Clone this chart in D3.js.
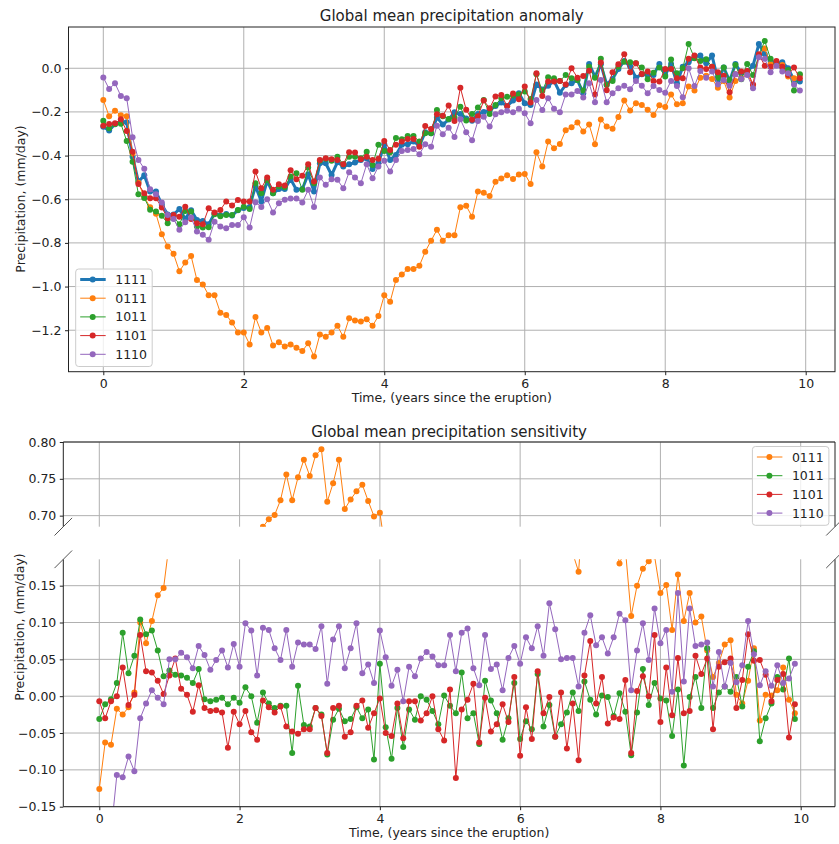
<!DOCTYPE html>
<html>
<head>
<meta charset="utf-8">
<script src="https://cdn.jsdelivr.net/npm/d3@7"></script>
<style>
body { margin: 0; background: #fff; }
text { font-family: "DejaVu Sans", sans-serif; fill: #222; }
</style>
</head>
<body>
<script>
// monthly samples, 10 years after the eruption
var months = d3.range(120);
var yearTicks = [0, 2, 4, 6, 8, 10];
var anomTicks = [0.0, -0.2, -0.4, -0.6, -0.8, -1.0, -1.2];
var sensTicksUpper = [0.80, 0.75, 0.70];
var sensTicksLower = [0.15, 0.10, 0.05, 0.00, -0.05, -0.10, -0.15];

// top panel: precipitation anomaly (mm/day)
var anom1111 = [-0.268,-0.285,-0.255,-0.245,-0.247,-0.405,-0.52,-0.49,-0.565,-0.565,-0.625,-0.67,-0.67,-0.645,-0.69,-0.65,-0.695,-0.70,-0.715,-0.665,-0.675,-0.668,-0.675,-0.65,-0.64,-0.635,-0.54,
  -0.61,-0.516,-0.573,-0.553,-0.553,-0.507,-0.557,-0.553,-0.486,-0.565,-0.435,-0.435,-0.489,-0.43,-0.45,-0.44,-0.432,-0.42,-0.412,-0.461,-0.435,-0.348,-0.42,-0.397,-0.35,-0.348,-0.336,-0.354,-0.293,-0.298,-0.225,-0.258,-0.235,
  -0.202,-0.21,-0.23,-0.24,-0.21,-0.2,-0.193,-0.173,-0.157,-0.173,-0.148,-0.115,-0.16,-0.168,-0.074,-0.097,-0.08,-0.058,-0.112,-0.077,-0.069,-0.054,-0.115,0.02,-0.038,0.018,-0.074,-0.049,-0.003,0.033,0.009,-0.043,
  -0.028,-0.031,-0.031,0.02,-0.031,0.02,-0.069,0.007,0.027,0.053,0.058,0.023,0.058,-0.054,0.003,-0.058,0.02,-0.023,-0.015,0.012,0.111,0.064,0.033,0.023,0.027,0.0,-0.054,-0.061];
var anom0111 = [-0.145,-0.22,-0.195,-0.215,-0.22,-0.39,-0.525,-0.59,-0.637,-0.667,-0.76,-0.817,-0.85,-0.93,-0.89,-0.86,-0.97,-0.99,-1.04,-1.04,-1.12,-1.13,-1.165,-1.21,-1.21,-1.265,-1.14,
  -1.21,-1.19,-1.27,-1.255,-1.275,-1.265,-1.28,-1.295,-1.26,-1.32,-1.22,-1.23,-1.21,-1.18,-1.23,-1.145,-1.155,-1.16,-1.15,-1.18,-1.135,-1.04,-1.07,-0.97,-0.945,-0.92,-0.92,-0.905,-0.84,-0.79,-0.74,-0.79,-0.765,
  -0.765,-0.637,-0.63,-0.68,-0.565,-0.57,-0.585,-0.52,-0.505,-0.49,-0.507,-0.487,-0.484,-0.53,-0.385,-0.45,-0.336,-0.366,-0.347,-0.284,-0.27,-0.248,-0.29,-0.258,-0.348,-0.235,-0.267,-0.277,-0.223,-0.148,-0.193,-0.16,
  -0.168,-0.19,-0.214,-0.17,-0.178,-0.12,-0.165,-0.16,-0.083,-0.102,-0.043,-0.034,-0.049,-0.089,-0.058,-0.134,-0.058,-0.046,-0.028,-0.077,0.061,0.091,0.018,0.018,0.015,-0.038,-0.046,-0.031];
var anom1011 = [-0.24,-0.275,-0.257,-0.254,-0.333,-0.428,-0.577,-0.594,-0.648,-0.656,-0.676,-0.71,-0.678,-0.715,-0.654,-0.656,-0.725,-0.73,-0.728,-0.669,-0.678,-0.672,-0.672,-0.649,-0.634,-0.645,-0.527,
  -0.573,-0.512,-0.573,-0.542,-0.545,-0.496,-0.481,-0.557,-0.455,-0.527,-0.424,-0.415,-0.424,-0.405,-0.44,-0.405,-0.405,-0.412,-0.382,-0.443,-0.35,-0.379,-0.385,-0.32,-0.325,-0.31,-0.31,-0.336,-0.298,-0.298,-0.191,-0.22,-0.233,
  -0.226,-0.176,-0.239,-0.21,-0.18,-0.145,-0.209,-0.168,-0.137,-0.13,-0.125,-0.12,-0.107,-0.141,-0.028,-0.104,-0.041,-0.046,-0.058,-0.031,-0.046,-0.054,-0.102,0.007,-0.043,0.043,-0.077,-0.058,0.007,0.03,0.027,0.023,
  0.004,-0.05,-0.02,0.003,-0.038,0.04,-0.023,0.0,0.111,0.046,0.033,0.041,0.007,-0.043,0.003,-0.054,0.015,-0.05,0.02,-0.031,0.061,0.125,0.043,0.023,0.003,-0.008,-0.102,-0.028];
var anom1101 = [-0.263,-0.255,-0.252,-0.234,-0.287,-0.382,-0.53,-0.573,-0.596,-0.596,-0.638,-0.687,-0.672,-0.68,-0.634,-0.69,-0.71,-0.715,-0.641,-0.661,-0.649,-0.61,-0.629,-0.603,-0.61,-0.61,-0.473,
  -0.55,-0.5,-0.557,-0.531,-0.537,-0.467,-0.508,-0.492,-0.44,-0.519,-0.42,-0.412,-0.417,-0.42,-0.44,-0.385,-0.386,-0.417,-0.405,-0.42,-0.415,-0.333,-0.374,-0.35,-0.336,-0.324,-0.324,-0.359,-0.265,-0.278,-0.211,-0.217,-0.171,
  -0.242,-0.089,-0.19,-0.236,-0.22,-0.148,-0.183,-0.129,-0.122,-0.174,-0.116,-0.142,-0.083,-0.157,-0.023,-0.127,-0.061,-0.061,-0.058,-0.074,0.0,-0.043,-0.035,-0.011,-0.12,0.026,-0.101,-0.018,0.018,0.064,-0.018,0.023,
  -0.026,-0.015,-0.058,-0.061,-0.003,-0.003,-0.046,-0.046,0.043,0.058,0.003,-0.003,0.007,-0.018,-0.034,-0.11,-0.028,-0.015,-0.012,-0.074,0.064,0.012,0.007,0.033,0.007,-0.031,0.003,-0.046];
var anom1110 = [-0.042,-0.095,-0.069,-0.127,-0.137,-0.316,-0.42,-0.46,-0.554,-0.577,-0.615,-0.672,-0.69,-0.74,-0.705,-0.684,-0.748,-0.763,-0.786,-0.703,-0.725,-0.733,-0.718,-0.718,-0.683,-0.73,-0.614,
  -0.635,-0.6,-0.661,-0.618,-0.602,-0.597,-0.597,-0.615,-0.557,-0.635,-0.5,-0.534,-0.508,-0.511,-0.55,-0.476,-0.5,-0.527,-0.44,-0.504,-0.45,-0.424,-0.473,-0.42,-0.379,-0.374,-0.37,-0.394,-0.348,-0.359,-0.263,-0.302,-0.272,
  -0.315,-0.234,-0.293,-0.33,-0.242,-0.222,-0.267,-0.211,-0.202,-0.195,-0.202,-0.186,-0.206,-0.252,-0.145,-0.191,-0.137,-0.186,-0.202,-0.12,-0.12,-0.104,-0.134,-0.069,-0.156,-0.054,-0.156,-0.115,-0.092,-0.08,-0.096,-0.058,
  -0.08,-0.115,-0.081,-0.1,-0.112,-0.058,-0.081,-0.133,0.0,-0.081,-0.012,-0.043,-0.015,-0.074,-0.054,-0.08,-0.028,-0.049,-0.031,-0.092,0.05,0.043,-0.018,0.012,-0.015,-0.023,-0.074,-0.102];

// bottom panel: sensitivity (mm/day)
var sens0111 = [-0.126,-0.063,-0.066,-0.017,-0.025,-0.015,0.005,0.10,0.072,0.102,0.137,0.147,
  0.21,0.285,0.23,0.21,0.275,0.29,0.325,0.375,0.445,0.46,0.49,0.56,0.57,0.63,0.6,0.6,
  0.685,0.695,0.701,0.721,0.756,0.721,0.752,0.776,0.754,0.782,0.790,0.719,0.744,0.776,0.709,0.722,0.733,0.742,0.72,0.699,0.704,
  0.65,0.573,0.595,0.572,0.584,0.551,0.547,0.492,0.515,0.533,0.523,0.563,0.427,0.4,0.44,0.355,0.37,0.392,0.347,0.348,0.317,0.359,0.372,0.324,0.362,0.311,0.353,0.256,0.308,0.235,0.207,0.201,0.194,
  0.169,0.278,0.31,0.253,0.193,0.228,0.22,0.18,0.2,0.109,0.15,0.173,0.183,0.19,0.14,0.151,0.09,0.165,0.102,0.14,0.1,0.108,0.062,0.026,0.045,0.07,0.076,0.002,-0.01,0.021,0.065,-0.033,0.002,0.001,0.008,0.039,-0.005,-0.023];
var sens1011 = [-0.031,-0.011,-0.004,0.018,0.086,0.031,0.055,0.104,0.084,0.089,0.062,0.027,0.035,0.029,0.028,0.025,0.018,0.037,-0.004,-0.007,-0.005,-0.002,-0.011,-0.002,-0.009,0.012,0.0,-0.036,
  0.005,-0.01,-0.016,-0.013,-0.013,-0.077,0.014,-0.039,-0.041,-0.016,-0.025,-0.079,-0.032,-0.017,-0.034,-0.031,-0.015,-0.03,-0.018,-0.086,0.044,-0.042,-0.085,-0.016,-0.069,-0.018,-0.032,0.0,-0.005,-0.02,-0.038,0.001,
  -0.013,-0.023,0.032,-0.03,-0.023,-0.065,0.021,-0.006,-0.023,-0.059,-0.03,0.018,-0.058,-0.034,-0.045,0.03,-0.041,-0.012,-0.055,-0.038,-0.022,0.005,-0.02,0.02,-0.005,-0.025,0.001,-0.001,-0.027,0.004,-0.021,-0.08,-0.022,
  0.037,-0.012,0.018,-0.003,-0.006,-0.054,0.009,-0.094,-0.001,0.026,-0.016,0.065,-0.016,0.005,0.013,0.006,0.026,-0.014,0.04,0.061,-0.061,-0.03,-0.01,0.026,0.009,0.051,-0.031];
var sens1101 = [-0.007,-0.03,-0.007,0.0,0.039,-0.012,0.002,0.083,0.034,0.032,0.021,0.003,0.028,0.051,0.01,0.002,-0.021,0.015,-0.016,-0.02,-0.019,-0.022,-0.07,-0.021,-0.038,-0.02,-0.049,-0.059,
  -0.006,-0.015,-0.022,-0.014,-0.041,-0.048,-0.051,-0.045,-0.045,-0.016,-0.027,-0.077,-0.016,-0.013,-0.055,-0.049,-0.013,-0.006,-0.043,-0.023,-0.003,-0.05,-0.054,-0.01,-0.057,-0.007,-0.007,-0.033,-0.023,0.0,-0.045,-0.06,
  0.009,-0.111,-0.018,-0.005,0.017,-0.063,-0.002,-0.048,-0.038,-0.011,-0.035,0.026,-0.081,-0.015,-0.058,0.034,-0.023,-0.001,-0.055,0.005,-0.071,-0.01,-0.087,0.028,0.075,-0.01,0.026,-0.037,-0.029,-0.031,0.022,-0.077,0.007,
  0.027,0.0,0.083,-0.035,0.039,-0.026,0.052,-0.023,-0.02,0.055,0.03,0.051,-0.045,0.04,0.046,0.051,-0.016,0.022,0.084,0.048,0.049,0.029,-0.007,0.022,0.03,-0.056,-0.011];
var sens1110 = [-0.226,-0.19,-0.186,-0.107,-0.11,-0.082,-0.102,-0.03,-0.01,0.008,-0.002,-0.011,0.05,0.05,0.059,0.053,0.038,0.068,0.056,0.036,0.049,0.062,0.039,0.071,0.04,0.099,0.089,0.028,
  0.093,0.09,0.065,0.049,0.09,0.04,0.073,0.07,0.07,0.064,0.095,0.017,0.077,0.095,0.038,0.065,0.099,0.031,0.043,0.018,0.089,0.053,0.014,0.036,-0.007,0.04,0.027,0.051,0.06,0.054,0.042,0.042,
  0.083,0.034,0.086,0.092,0.038,0.015,0.083,0.037,0.043,0.008,0.052,0.068,0.044,0.08,0.065,0.095,0.055,0.126,0.091,0.05,0.052,0.052,0.013,0.086,0.11,0.069,0.08,0.058,0.08,0.112,0.103,0.008,0.062,
  0.099,0.049,0.119,0.072,0.09,0.006,0.14,0.02,0.119,0.068,0.07,0.073,0.013,0.06,0.013,0.045,0.019,0.042,0.102,0.057,0.015,0.034,0.014,0.042,0.018,0.024,0.044];

var colors = {"1111": "#1f77b4", "0111": "#ff7f0e", "1011": "#2ca02c", "1101": "#d62728", "1110": "#9467bd"};
var topSeries = [["1111", anom1111, 3], ["0111", anom0111, 1], ["1011", anom1011, 1], ["1101", anom1101, 1], ["1110", anom1110, 1]];
var botSeries = [["0111", sens0111], ["1011", sens1011], ["1101", sens1101], ["1110", sens1110]];

var svg = d3.select("body").append("svg").attr("width", 839).attr("height", 844);
var fmt1 = d3.format(".1f"), fmt2 = d3.format(".2f");

function grid(g, xs, ys, xt, yt, x0, x1, y0, y1) {
  g.selectAll(null).data(xt).enter().append("line")
    .attr("x1", d => xs(d)).attr("x2", d => xs(d)).attr("y1", y0).attr("y2", y1)
    .attr("stroke", "#b0b0b0").attr("stroke-width", 1);
  g.selectAll(null).data(yt).enter().append("line")
    .attr("x1", x0).attr("x2", x1).attr("y1", d => ys(d)).attr("y2", d => ys(d))
    .attr("stroke", "#b0b0b0").attr("stroke-width", 1);
}

function series(g, values, color, lw, xs, ys) {
  g.append("path").datum(values)
    .attr("d", d3.line().x((d, i) => xs(months[i] / 12)).y(d => ys(d)))
    .attr("fill", "none").attr("stroke", color).attr("stroke-width", lw).attr("stroke-linejoin", "round");
  g.selectAll(null).data(values).enter().append("circle")
    .attr("cx", (d, i) => xs(months[i] / 12)).attr("cy", d => ys(d)).attr("r", 3).attr("fill", color);
}

function styleAxis(a) {
  a.select(".domain").remove();
  a.attr("font-family", "DejaVu Sans, sans-serif").attr("font-size", 12.5);
  a.selectAll("line").attr("stroke", "#222").attr("stroke-width", 1);
  a.selectAll("text").attr("fill", "#222");
}

function clip(id, x, y, w, h) {
  svg.append("clipPath").attr("id", id).append("rect").attr("x", x).attr("y", y).attr("width", w).attr("height", h);
}

function legend(x, y, rows) {
  var lg = svg.append("g");
  lg.append("rect").attr("x", x).attr("y", y).attr("width", 76.5).attr("height", 18.7 * rows.length + 4)
    .attr("rx", 3).attr("fill", "#fff").attr("fill-opacity", 0.8).attr("stroke", "#ccc");
  rows.forEach(function (r, i) {
    var cy = y + 10.5 + 18.7 * i;
    lg.append("line").attr("x1", x + 4.5).attr("x2", x + 30).attr("y1", cy).attr("y2", cy)
      .attr("stroke", colors[r[0]]).attr("stroke-width", r[1]);
    lg.append("circle").attr("cx", x + 17).attr("cy", cy).attr("r", 3).attr("fill", colors[r[0]]);
    lg.append("text").attr("x", x + 39.5).attr("y", cy).attr("dy", "0.36em").attr("font-size", 12.5).text(r[0]);
  });
}

// ---------- top chart ----------
var xTop = d3.scaleLinear().domain([0, 10]).range([103.3, 805.7]);
var yTop = d3.scaleLinear().domain([-1.39, 0.189]).range([371.7, 27]);
var tL = 68.5, tR = 835, tT = 27, tB = 371.7;

grid(svg.append("g"), xTop, yTop, yearTicks, anomTicks, tL, tR, tT, tB);
clip("clipTop", tL, tT, tR - tL, tB - tT);
var gTop = svg.append("g").attr("clip-path", "url(#clipTop)");
topSeries.forEach(function (s) { series(gTop, s[1], colors[s[0]], s[2], xTop, yTop); });

svg.append("rect").attr("x", tL).attr("y", tT).attr("width", tR - tL).attr("height", tB - tT)
  .attr("fill", "none").attr("stroke", "#222").attr("stroke-width", 1);

svg.append("g").attr("transform", "translate(" + tL + ",0)")
  .call(d3.axisLeft(yTop).tickValues(anomTicks).tickFormat(fmt1).tickSize(3.5).tickPadding(3.5))
  .call(styleAxis);
svg.append("g").attr("transform", "translate(0," + tB + ")")
  .call(d3.axisBottom(xTop).tickValues(yearTicks).tickFormat(d3.format("d")).tickSize(3.5).tickPadding(3.5))
  .call(styleAxis);

svg.append("text").attr("x", (tL + tR) / 2).attr("y", 16).attr("dy", "0.35em").attr("text-anchor", "middle")
  .attr("font-size", 15).text("Global mean precipitation anomaly");
svg.append("text").attr("x", (tL + tR) / 2).attr("y", 398).attr("dy", "0.35em").attr("text-anchor", "middle")
  .attr("font-size", 12.5).text("Time, (years since the eruption)");
svg.append("text").attr("transform", "translate(21,199) rotate(-90)").attr("dy", "0.35em").attr("text-anchor", "middle")
  .attr("font-size", 12.5).text("Precipitation, (mm/day)");

legend(75.7, 269, [["1111", 3], ["0111", 1], ["1011", 1], ["1101", 1], ["1110", 1]]);

// ---------- bottom chart (broken y axis) ----------
var xBot = d3.scaleLinear().domain([0, 10]).range([99.3, 800.7]);
var yUp = d3.scaleLinear().domain([0.685, 0.80]).range([526.7, 442]);
var yLo = d3.scaleLinear().domain([-0.15, 0.1858]).range([806.7, 559.3]);
var bL = 63.3, bR = 835;

grid(svg.append("g"), xBot, yUp, yearTicks, sensTicksUpper, bL, bR, 442, 526.7);
grid(svg.append("g"), xBot, yLo, yearTicks, sensTicksLower, bL, bR, 559.3, 806.7);
clip("clipUp", bL, 442, bR - bL, 526.7 - 442);
clip("clipLo", bL, 559.3, bR - bL, 806.7 - 559.3);
var gUp = svg.append("g").attr("clip-path", "url(#clipUp)");
var gLo = svg.append("g").attr("clip-path", "url(#clipLo)");
botSeries.forEach(function (s) {
  series(gUp, s[1], colors[s[0]], 1, xBot, yUp);
  series(gLo, s[1], colors[s[0]], 1, xBot, yLo);
});

// spines: upper panel has no bottom, lower panel has no top
var spine = svg.append("g").attr("stroke", "#222").attr("stroke-width", 1);
spine.append("path").attr("fill", "none").attr("d", "M" + bL + ",526.7V442H" + bR + "V526.7");
spine.append("path").attr("fill", "none").attr("d", "M" + bL + ",559.3V806.7H" + bR + "V559.3");

// diagonal break marks
var breaks = [[bL, 526.7], [bR, 526.7], [bL, 559.3], [bR, 559.3]];
svg.append("g").selectAll("line").data(breaks).enter().append("line")
  .attr("x1", d => d[0] - 8.8).attr("y1", d => d[1] + 8.8)
  .attr("x2", d => d[0] + 8.8).attr("y2", d => d[1] - 8.8)
  .attr("stroke", "#555").attr("stroke-width", 1);

svg.append("g").attr("transform", "translate(" + bL + ",0)")
  .call(d3.axisLeft(yUp).tickValues(sensTicksUpper).tickFormat(fmt2).tickSize(3.5).tickPadding(3.5))
  .call(styleAxis);
svg.append("g").attr("transform", "translate(" + bL + ",0)")
  .call(d3.axisLeft(yLo).tickValues(sensTicksLower).tickFormat(fmt2).tickSize(3.5).tickPadding(3.5))
  .call(styleAxis);
svg.append("g").attr("transform", "translate(0,806.7)")
  .call(d3.axisBottom(xBot).tickValues(yearTicks).tickFormat(d3.format("d")).tickSize(3.5).tickPadding(3.5))
  .call(styleAxis);

svg.append("text").attr("x", (bL + bR) / 2).attr("y", 432).attr("dy", "0.35em").attr("text-anchor", "middle")
  .attr("font-size", 15).text("Global mean precipitation sensitivity");
svg.append("text").attr("x", (bL + bR) / 2).attr("y", 833).attr("dy", "0.35em").attr("text-anchor", "middle")
  .attr("font-size", 12.5).text("Time, (years since the eruption)");
svg.append("text").attr("transform", "translate(19.3,627) rotate(-90)").attr("dy", "0.35em").attr("text-anchor", "middle")
  .attr("font-size", 12.5).text("Precipitation, (mm/day)");

legend(752.4, 446.5, [["0111", 1], ["1011", 1], ["1101", 1], ["1110", 1]]);
</script>
</body>
</html>
